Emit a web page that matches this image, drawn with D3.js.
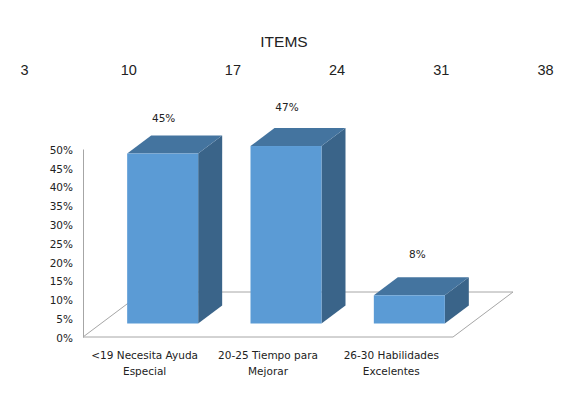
<!DOCTYPE html>
<html>
<head>
<meta charset="utf-8">
<script src="https://cdn.jsdelivr.net/npm/d3@7"></script>
<style>
  html, body { margin: 0; padding: 0; background: #fff; }
  svg { display: block; }
</style>
</head>
<body>
<svg id="chart" width="572" height="393"></svg>
<script>
const categories = ["<19 Necesita Ayuda|Especial", "20-25 Tiempo para|Mejorar", "26-30 Habilidades|Excelentes"];
const values = [0.452, 0.472, 0.075];
const valueLabels = ["45%", "47%", "8%"];
const yTicks = [0, 0.05, 0.1, 0.15, 0.2, 0.25, 0.3, 0.35, 0.4, 0.45, 0.5];
const topTicks = [3, 10, 17, 24, 31, 38];

const svg = d3.select("#chart");

// plot geometry
const floorLeft = 83, floorRight = 453, floorY = 337, topY = 149;
const floorDx = 60, floorDy = 45;   // depth of the floor
const barDx = 24, barDy = 18;       // depth of a bar
const barWidth = 71;
const barShift = 18;                // bars stand a bit back on the floor
const baseY = floorY - 13.5;
const labelGap = [35, 38, 40];      // the labels don't sit at a fixed distance
const labelShift = [1, 1, 8];

const monoFont = "'DejaVu Sans', sans-serif";
const titleFont = "'Liberation Sans', Arial, sans-serif";

//scales
const xScale = d3.scaleBand().domain(categories).range([floorLeft, floorRight]);
const yScale = d3.scaleLinear().domain([0, 0.5]).range([floorY, topY]);
const topScale = d3.scaleLinear().domain([3, 38]).range([24, 545]);

// title
svg.append("text")
    .attr("x", 284).attr("y", 47)
    .attr("text-anchor", "middle")
    .attr("font-family", titleFont)
    .attr("font-size", 15.5)
    .attr("fill", "#222")
    .text("ITEMS");

// top axis, no line
const topAxis = d3.axisTop(topScale).tickValues(topTicks).tickSize(0).tickPadding(0);
const topG = svg.append("g")
    .attr("transform", "translate(0,75)")
    .call(topAxis);
topG.select(".domain").remove();
topG.selectAll("text")
    .attr("font-family", titleFont)
    .attr("font-size", 14.5)
    .attr("fill", "#222");

// floor
const floorColor = "#a6a6a6";
const floorPath = d3.path();
floorPath.moveTo(floorLeft, floorY);
floorPath.lineTo(floorLeft + floorDx, floorY - floorDy);
floorPath.lineTo(floorRight + floorDx, floorY - floorDy);
floorPath.lineTo(floorRight, floorY);
floorPath.closePath();
svg.append("path")
    .attr("d", floorPath.toString())
    .attr("fill", "none")
    .attr("stroke", floorColor)
    .attr("stroke-width", 1);

// y axis
const yAxis = d3.axisLeft(yScale)
    .tickValues(yTicks)
    .tickFormat(d3.format(".0%"))
    .tickSize(0)
    .tickPadding(10);
const yG = svg.append("g")
    .attr("transform", `translate(${floorLeft},0)`)
    .call(yAxis);
yG.select(".domain").attr("stroke", floorColor);
yG.selectAll("text")
    .attr("y", 1)
    .attr("font-family", monoFont)
    .attr("font-size", 10.5)
    .attr("fill", "#222");

// bars
const bars = svg.selectAll(".bar")
    .data(values)
    .enter()
    .append("g")
    .attr("class", "bar");

const barLeft = (d, i) => xScale(categories[i]) + xScale.bandwidth() / 2 + barShift - barWidth / 2;
const barTop = (d) => yScale(d) - (floorY - baseY);

// side
bars.append("path")
    .attr("fill", "#3a6489")
    .attr("d", (d, i) => {
        const x = barLeft(d, i) + barWidth, t = barTop(d);
        return `M${x},${t}L${x + barDx},${t - barDy}L${x + barDx},${baseY - barDy}L${x},${baseY}Z`;
    });

// top
bars.append("path")
    .attr("fill", "#44749f")
    .attr("d", (d, i) => {
        const x = barLeft(d, i), t = barTop(d);
        return `M${x},${t}L${x + barDx},${t - barDy}L${x + barWidth + barDx},${t - barDy}L${x + barWidth},${t}Z`;
    });

// front
bars.append("rect")
    .attr("fill", "#5b9bd5")
    .attr("x", barLeft)
    .attr("y", barTop)
    .attr("width", barWidth)
    .attr("height", (d) => baseY - barTop(d));

// data labels
bars.append("text")
    .attr("x", (d, i) => barLeft(d, i) + barWidth / 2 + labelShift[i])
    .attr("y", (d, i) => barTop(d) - labelGap[i])
    .attr("text-anchor", "middle")
    .attr("dominant-baseline", "middle")
    .attr("font-family", monoFont)
    .attr("font-size", 10.5)
    .attr("fill", "#222")
    .text((d, i) => valueLabels[i]);

// category labels, two lines each
const catG = svg.selectAll(".cat")
    .data(categories)
    .enter()
    .append("text")
    .attr("class", "cat")
    .attr("text-anchor", "middle")
    .attr("font-family", monoFont)
    .attr("font-size", 10.5)
    .attr("fill", "#222");

catG.selectAll("tspan")
    .data((d) => d.split("|").map((t) => ({ t: t, cat: d })))
    .enter()
    .append("tspan")
    .attr("x", (d) => xScale(d.cat) + xScale.bandwidth() / 2)
    .attr("y", (d, i) => 359 + i * 16)
    .text((d) => d.t);
</script>
</body>
</html>
